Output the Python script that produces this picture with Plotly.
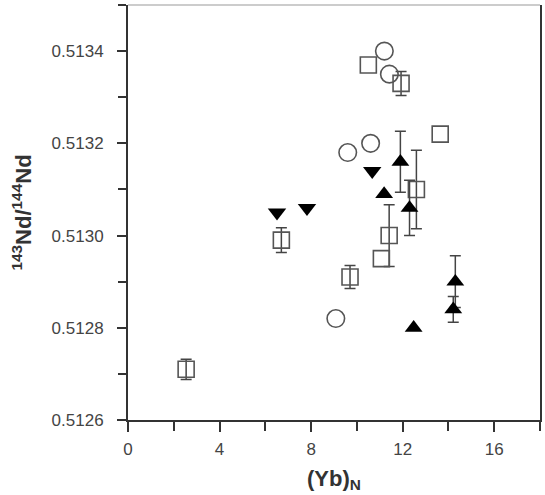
import plotly.graph_objects as go

# --- data ---
circle_x = [11.20, 11.42, 10.60, 9.60, 9.08]
circle_y = [0.51340, 0.51335, 0.51320, 0.51318, 0.51282]

square_x = [10.50, 13.64, 11.07]
square_y = [0.51337, 0.51322, 0.51295]

square_err_x = [11.93, 12.60, 11.41, 9.70, 6.70, 2.54]
square_err_y = [0.51333, 0.51310, 0.51300, 0.51291, 0.51299, 0.51271]
square_err_e = [0.000026, 0.000085, 0.000067, 0.000025, 0.000027, 0.000022]

tri_down_x = [6.51, 7.82, 10.67]
tri_down_y = [0.51305, 0.51306, 0.51314]

tri_up_x = [11.19, 12.48]
tri_up_y = [0.51309, 0.51280]

tri_up_err_x = [11.90, 12.30, 14.30, 14.21]
tri_up_err_y = [0.51316, 0.51306, 0.51290, 0.51284]
tri_up_err_e = [0.000066, 0.000060, 0.000056, 0.000028]

x_ticks = [0, 4, 8, 12, 16]
y_ticks = [0.5126, 0.5128, 0.5130, 0.5132, 0.5134]

FONT = "Liberation Sans, Arial, sans-serif"
GREY = "#555555"
ERR = dict(type="data", color="#444444", thickness=1.5, width=5.5)

fig = go.Figure()

fig.add_trace(go.Scatter(
    x=square_err_x, y=square_err_y, mode="markers",
    error_y=dict(array=square_err_e, **ERR),
    marker=dict(symbol="square-open", size=16, color=GREY, line=dict(width=1.6, color=GREY)),
    showlegend=False))
fig.add_trace(go.Scatter(
    x=square_x, y=square_y, mode="markers",
    marker=dict(symbol="square-open", size=16, color=GREY, line=dict(width=1.6, color=GREY)),
    showlegend=False))
fig.add_trace(go.Scatter(
    x=circle_x, y=circle_y, mode="markers",
    marker=dict(symbol="circle-open", size=17.5, color=GREY, line=dict(width=1.6, color=GREY)),
    showlegend=False))
fig.add_trace(go.Scatter(
    x=tri_down_x, y=tri_down_y, mode="markers",
    marker=dict(symbol="triangle-down", size=16, color="black", line=dict(width=0)),
    showlegend=False))
fig.add_trace(go.Scatter(
    x=tri_up_err_x, y=tri_up_err_y, mode="markers",
    error_y=dict(array=tri_up_err_e, **ERR),
    marker=dict(symbol="triangle-up", size=15.5, color="black", line=dict(width=0)),
    showlegend=False))
fig.add_trace(go.Scatter(
    x=tri_up_x, y=tri_up_y, mode="markers",
    marker=dict(symbol="triangle-up", size=15.5, color="black", line=dict(width=0)),
    showlegend=False))

fig.add_shape(type="line", xref="paper", yref="paper", x0=0, x1=1, y0=1, y1=1,
              line=dict(color="#999999", width=1))

fig.update_layout(
    width=545, height=495,
    margin=dict(l=128, r=3, t=5, b=75),
    paper_bgcolor="white", plot_bgcolor="white",
    font=dict(family=FONT, color="#444444"),
    xaxis=dict(
        range=[0, 18], tickvals=x_ticks, ticktext=[str(v) for v in x_ticks],
        showgrid=False, zeroline=False,
        showline=True, linecolor="#333333", linewidth=2, mirror=False,
        ticks="outside", ticklen=10, tickwidth=1.5, tickcolor="#333333",
        minor=dict(dtick=2, tick0=0, ticks="outside", ticklen=9, tickwidth=1.5, tickcolor="#333333"),
        tickfont=dict(size=17, color="#444444", family=FONT),
        ticklabelstandoff=3,
        title=dict(text="<b>(Yb)<sub>N</sub></b>", font=dict(size=22, color="#333333", family=FONT), standoff=12),
    ),
    yaxis=dict(
        range=[0.5126, 0.5135], tickvals=y_ticks, ticktext=["%.4f" % v for v in y_ticks],
        showgrid=False, zeroline=False,
        showline=True, linecolor="#333333", linewidth=2, mirror=True,
        ticks="outside", ticklen=9, tickwidth=1.5, tickcolor="#333333",
        minor=dict(dtick=0.0001, tick0=0.5126, ticks="outside", ticklen=8, tickwidth=1.5, tickcolor="#333333"),
        tickfont=dict(size=17, color="#444444", family=FONT),
        ticklabelstandoff=10,
        title=dict(text="<b><sup>143</sup>Nd/<sup>144</sup>Nd</b>", font=dict(size=22, color="#333333", family=FONT), standoff=14),
    ),
)

fig.write_html("out.html")
